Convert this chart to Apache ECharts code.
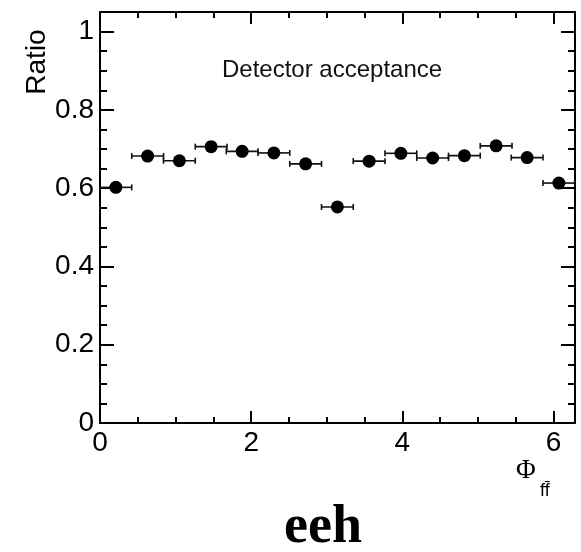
<!DOCTYPE html>
<html><head><meta charset="utf-8">
<script src="https://cdn.jsdelivr.net/npm/echarts@6/dist/echarts.min.js"></script>
<style>html,body{margin:0;padding:0;background:#fff}#c{width:581px;height:552px}</style>
</head><body><div id="c"></div>
<script>
// Bin centres (Φ_ff̄), half bin widths and acceptance ratio
const phi    = [0.21, 0.63, 1.05, 1.47, 1.88, 2.30, 2.72, 3.14, 3.56, 3.98, 4.40, 4.82, 5.24, 5.65, 6.07];
const phiErr = [0.21, 0.21, 0.21, 0.21, 0.21, 0.21, 0.21, 0.21, 0.21, 0.21, 0.21, 0.21, 0.21, 0.21, 0.21];
const ratio  = [0.602, 0.682, 0.670, 0.706, 0.694, 0.690, 0.662, 0.552, 0.669, 0.689, 0.677, 0.683, 0.708, 0.678, 0.613];
const xTickLabels = ['0', '2', '4', '6'];
const yTickLabels = ['0', '0.2', '0.4', '0.6', '0.8', '1'];

const X_MAX = 6.2832, Y_MAX = 1.05;
const black = '#000';
const SANS = '"Liberation Sans", Arial, Helvetica, sans-serif';
const SERIF = '"Liberation Serif", "Times New Roman", serif';

function lbl(list) {
  return function (v) {
    const s = String(Math.round(v * 1000) / 1000);
    return list.indexOf(s) >= 0 ? s : '';
  };
}

function xAx(pos, interval, len, showLine, showLabel) {
  return {
    type: 'value', position: pos, min: 0, max: X_MAX, interval: interval,
    axisLine: { show: showLine, onZero: false, lineStyle: { color: black, width: 2 } },
    axisTick: { show: true, inside: true, length: len, lineStyle: { color: black, width: 2 } },
    axisLabel: { show: showLabel, showMaxLabel: false, margin: 6, color: black, fontSize: 28, fontFamily: SANS, formatter: lbl(xTickLabels) },
    splitLine: { show: false }
  };
}
function yAx(pos, interval, len, showLine, showLabel) {
  return {
    type: 'value', position: pos, min: 0, max: Y_MAX, interval: interval,
    axisLine: { show: showLine, onZero: false, lineStyle: { color: black, width: 2 } },
    axisTick: { show: true, inside: true, length: len, lineStyle: { color: black, width: 2 } },
    axisLabel: { show: showLabel, showMaxLabel: false, margin: 6, color: black, fontSize: 28, fontFamily: SANS, formatter: lbl(yTickLabels) },
    splitLine: { show: false }
  };
}

const chart = echarts.init(document.getElementById('c'), null, { renderer: 'canvas' });
chart.setOption({
  animation: false,
  backgroundColor: '#fff',
  grid: { left: 100, right: 6, top: 12, bottom: 129 },
  xAxis: [
    xAx('bottom', 2, 12, true, true),
    xAx('bottom', 0.5, 6, false, false),
    xAx('top', 2, 12, true, false),
    xAx('top', 0.5, 6, false, false)
  ],
  yAxis: [
    yAx('left', 0.2, 14, true, true),
    yAx('left', 0.05, 7, false, false),
    yAx('right', 0.2, 14, true, false),
    yAx('right', 0.05, 7, false, false)
  ],
  series: [
    {
      type: 'custom', xAxisIndex: 0, yAxisIndex: 0, z: 2,
      data: phi.map((x, i) => [x, ratio[i], phiErr[i]]),
      renderItem: function (params, api) {
        const x = api.value(0), y = api.value(1), e = api.value(2);
        const a = api.coord([x - e, y]), b = api.coord([x + e, y]);
        const st = { stroke: '#111', lineWidth: 1.6 };
        const cap = 3;
        return {
          type: 'group',
          children: [
            { type: 'line', shape: { x1: a[0], y1: a[1], x2: b[0], y2: b[1] }, style: st },
            { type: 'line', shape: { x1: a[0], y1: a[1] - cap, x2: a[0], y2: a[1] + cap }, style: st },
            { type: 'line', shape: { x1: b[0], y1: b[1] - cap, x2: b[0], y2: b[1] + cap }, style: st }
          ]
        };
      }
    },
    {
      type: 'scatter', xAxisIndex: 0, yAxisIndex: 0, z: 3,
      symbol: 'circle', symbolSize: 13,
      itemStyle: { color: black, opacity: 1 },
      emphasis: { disabled: true },
      data: phi.map((x, i) => [x, ratio[i]])
    }
  ],
  graphic: [
    { type: 'text', x: 222, y: 70, style: { text: 'Detector acceptance', fill: '#111', fontSize: 24, fontFamily: SANS, align: 'left', verticalAlign: 'middle' } },
    { type: 'text', x: 37, y: 62, rotation: Math.PI / 2, style: { text: 'Ratio', fill: black, fontSize: 28, fontFamily: SANS, align: 'center', verticalAlign: 'middle' } },
    { type: 'text', x: 516, y: 471, style: { text: 'Φ', fill: black, fontSize: 27, fontFamily: SERIF, align: 'left', verticalAlign: 'middle' } },
    { type: 'text', x: 540, y: 491, style: { text: 'ff\u0304', fill: black, fontSize: 18, fontFamily: SANS, align: 'left', verticalAlign: 'middle' } },
    { type: 'text', x: 284, y: 528, style: { text: 'eeh', fill: black, fontSize: 54, fontWeight: 'bold', fontFamily: SERIF, align: 'left', verticalAlign: 'middle' } }
  ]
});
</script>
</body></html>
